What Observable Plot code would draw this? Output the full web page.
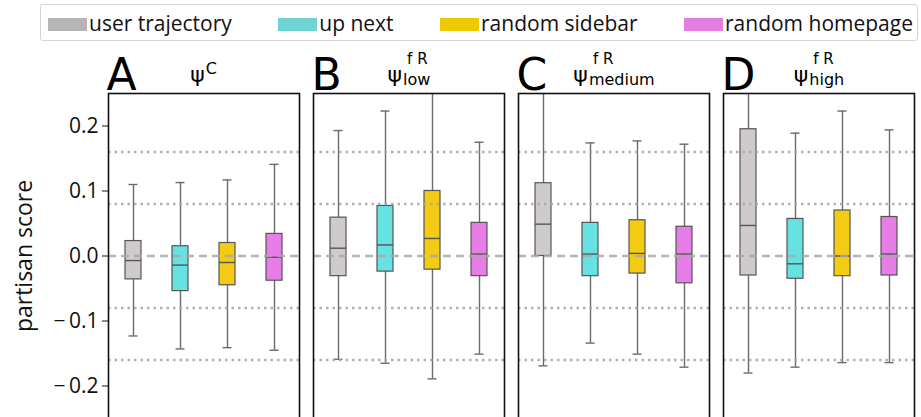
<!DOCTYPE html>
<html>
<head>
<meta charset="utf-8">
<script src="https://cdn.jsdelivr.net/npm/d3@7"></script>
<script src="https://cdn.jsdelivr.net/npm/@observablehq/plot@0.6"></script>
<style>
  html, body { margin: 0; padding: 0; background: white; }
  body { width: 921px; height: 417px; overflow: hidden; position: relative; }
  #legend {
    position: absolute; left: 40px; top: 4px; width: 878px; height: 37px;
    border: 1px solid #d4d4d4; border-radius: 3px; box-sizing: border-box;
    display: flex; align-items: center; justify-content: space-between;
    padding: 0 4px 0 7px; font-family: "Open Sans"; font-size: 21px; color: #111;
  }
  .item { display: flex; align-items: center; white-space: nowrap; }
  .sw { width: 39px; height: 13px; margin-right: 2px; margin-top: 3px; }
  #chart { position: absolute; left: 0; top: 45px; }
</style>
</head>
<body>
<div id="legend"></div>
<div id="chart"></div>
<script>
// ---- data ----
const panels = ["A", "B", "C", "D"];
const categories = ["user trajectory", "up next", "random sidebar", "random homepage"];
const titleSup = ["C", "f R", "f R", "f R"];
const titleSub = ["", "low", "medium", "high"];

// per panel, per category
const whiskerLow = [
  [-0.123, -0.143, -0.141, -0.145],
  [-0.159, -0.165, -0.189, -0.151],
  [-0.169, -0.134, -0.151, -0.171],
  [-0.180, -0.171, -0.164, -0.164]
];
const q1 = [
  [-0.036, -0.054, -0.045, -0.038],
  [-0.031, -0.024, -0.021, -0.031],
  [0.000, -0.031, -0.027, -0.042],
  [-0.030, -0.035, -0.031, -0.030]
];
const median = [
  [-0.007, -0.014, -0.010, -0.002],
  [0.012, 0.017, 0.027, 0.003],
  [0.049, 0.003, 0.004, 0.003],
  [0.047, -0.012, 0.000, 0.003]
];
const q3 = [
  [0.023, 0.015, 0.020, 0.034],
  [0.059, 0.077, 0.100, 0.051],
  [0.112, 0.051, 0.055, 0.045],
  [0.195, 0.057, 0.070, 0.060]
];
const whiskerHigh = [
  [0.110, 0.113, 0.117, 0.141],
  [0.193, 0.223, 0.300, 0.175],
  [0.300, 0.174, 0.177, 0.172],
  [0.300, 0.189, 0.223, 0.194]
];
const yTicks = [-0.2, -0.1, 0.0, 0.1, 0.2];
const refLevels = [-0.16, -0.08, 0.08, 0.16];

const boxColors = ["#cfcbcb", "#66e2e2", "#f3cb12", "#e77de6"];
const legendColors = ["#b5b5b5", "#6fd3d3", "#efc805", "#e27ee2"];

// ---- table ----
const rows = [];
panels.forEach((p, i) => categories.forEach((c, j) => rows.push({
  panel: p, cat: c, lo: whiskerLow[i][j], q1: q1[i][j], med: median[i][j], q3: q3[i][j], hi: whiskerHigh[i][j]
})));

// ---- legend ----
const legend = document.getElementById("legend");
categories.forEach((c, j) => {
  const it = document.createElement("div");
  it.className = "item";
  const sw = document.createElement("span");
  sw.className = "sw";
  sw.style.background = legendColors[j];
  const tx = document.createElement("span");
  tx.textContent = c;
  it.appendChild(sw); it.appendChild(tx);
  legend.appendChild(it);
});

const fmt = d => d === 0 ? "0.0" : (d < 0 ? "\u2212\u2009" : "") + Math.abs(d).toFixed(1);

const plot = Plot.plot({
  width: 921,
  height: 378,
  marginLeft: 107,
  marginRight: 6,
  marginTop: 48,
  marginBottom: 5,
  style: {fontFamily: "Open Sans", fontSize: "21px", background: "white", color: "#111"},
  fx: {domain: panels, paddingInner: 0.068, paddingOuter: 0, axis: null, label: null},
  x: {domain: categories, paddingInner: 0.65, paddingOuter: 0.325, axis: null},
  y: {domain: [-0.25, 0.25], ticks: yTicks, tickFormat: fmt, tickSize: 6, tickPadding: 4,
      label: "partisan score", labelAnchor: "center", labelOffset: 93},
  color: {domain: categories, range: boxColors},
  marks: [
    Plot.ruleX(rows, {fx: "panel", x: "cat", y1: "lo", y2: "hi", stroke: "#6a6a6a", strokeWidth: 1.4, clip: true}),
    Plot.tickY(rows, {fx: "panel", x: "cat", y: "hi", stroke: "#6a6a6a", strokeWidth: 1.4, insetLeft: 3.5, insetRight: 3.5, clip: true}),
    Plot.tickY(rows, {fx: "panel", x: "cat", y: "lo", stroke: "#6a6a6a", strokeWidth: 1.4, insetLeft: 3.5, insetRight: 3.5, clip: true}),
    Plot.barY(rows, {fx: "panel", x: "cat", y1: "q1", y2: "q3", fill: "cat", stroke: "#555", strokeWidth: 1.2}),
    Plot.tickY(rows, {fx: "panel", x: "cat", y: "med", stroke: "#555", strokeWidth: 1.4}),
    Plot.ruleY(refLevels, {stroke: "#a8a8a8", strokeWidth: 2.5, strokeDasharray: "2.5,4", strokeOpacity: 0.9}),
    Plot.ruleY([0], {stroke: "#a8a8a8", strokeWidth: 2.5, strokeDasharray: "8,5", strokeOpacity: 0.85}),
    Plot.frame({stroke: "#111", strokeWidth: 1.6}),
    Plot.text(panels, {fx: d => d, text: d => d, frameAnchor: "top-left", textAnchor: "start",
      lineAnchor: "bottom", dx: -2, dy: -4, fontSize: 44, fontFamily: "DejaVu Sans", fill: "#000"}),
    Plot.text(panels, {fx: d => d, text: () => "\u03c8", frameAnchor: "top", textAnchor: "middle",
      lineAnchor: "bottom", dy: -12, fontSize: 22, fontFamily: "DejaVu Sans", fill: "#000"})
  ]
});

document.getElementById("chart").appendChild(plot);

// axis label: larger, no arrow
d3.select(plot).selectAll("text").filter(function () { return this.textContent.startsWith("partisan score"); })
  .text("partisan score")
  .style("font-size", "23px");

// compose psi titles with super/subscripts as sibling text elements
const psiNodes = d3.select(plot).selectAll("text").filter(function () { return this.textContent === "\u03c8"; }).nodes();
psiNodes.forEach((node, i) => {
  const psiW = node.getComputedTextLength();
  const parent = d3.select(node.parentNode);
  const transform = node.getAttribute("transform");
  const yAttr = node.getAttribute("y") || "0";
  const baseY = yAttr.endsWith("em") ? parseFloat(yAttr) * 22 : parseFloat(yAttr) || 0;
  const hasSub = titleSub[i] !== "";
  const mk = (txt, size, dy) => parent.append("text")
    .attr("transform", transform)
    .attr("text-anchor", "start")
    .attr("font-family", "DejaVu Sans")
    .attr("font-size", size)
    .attr("fill", "#000")
    .attr("y", baseY + dy)
    .text(txt);
  const sup = mk(titleSup[i], hasSub ? 15 : 16, hasSub ? -18 : -8);
  const supW = sup.node().getComputedTextLength();
  let sub = null, subW = 0;
  if (hasSub) {
    sub = mk(titleSub[i], 16, 3);
    subW = sub.node().getComputedTextLength();
  }
  const supShift = hasSub ? 5 : 1;
  const total = psiW + 1 + Math.max(supW + supShift, subW);
  const x0 = -total / 2;
  d3.select(node).attr("text-anchor", "start").attr("x", x0);
  sup.attr("x", x0 + psiW + supShift);
  if (sub) sub.attr("x", x0 + psiW + 1);
});
</script>
</body>
</html>
